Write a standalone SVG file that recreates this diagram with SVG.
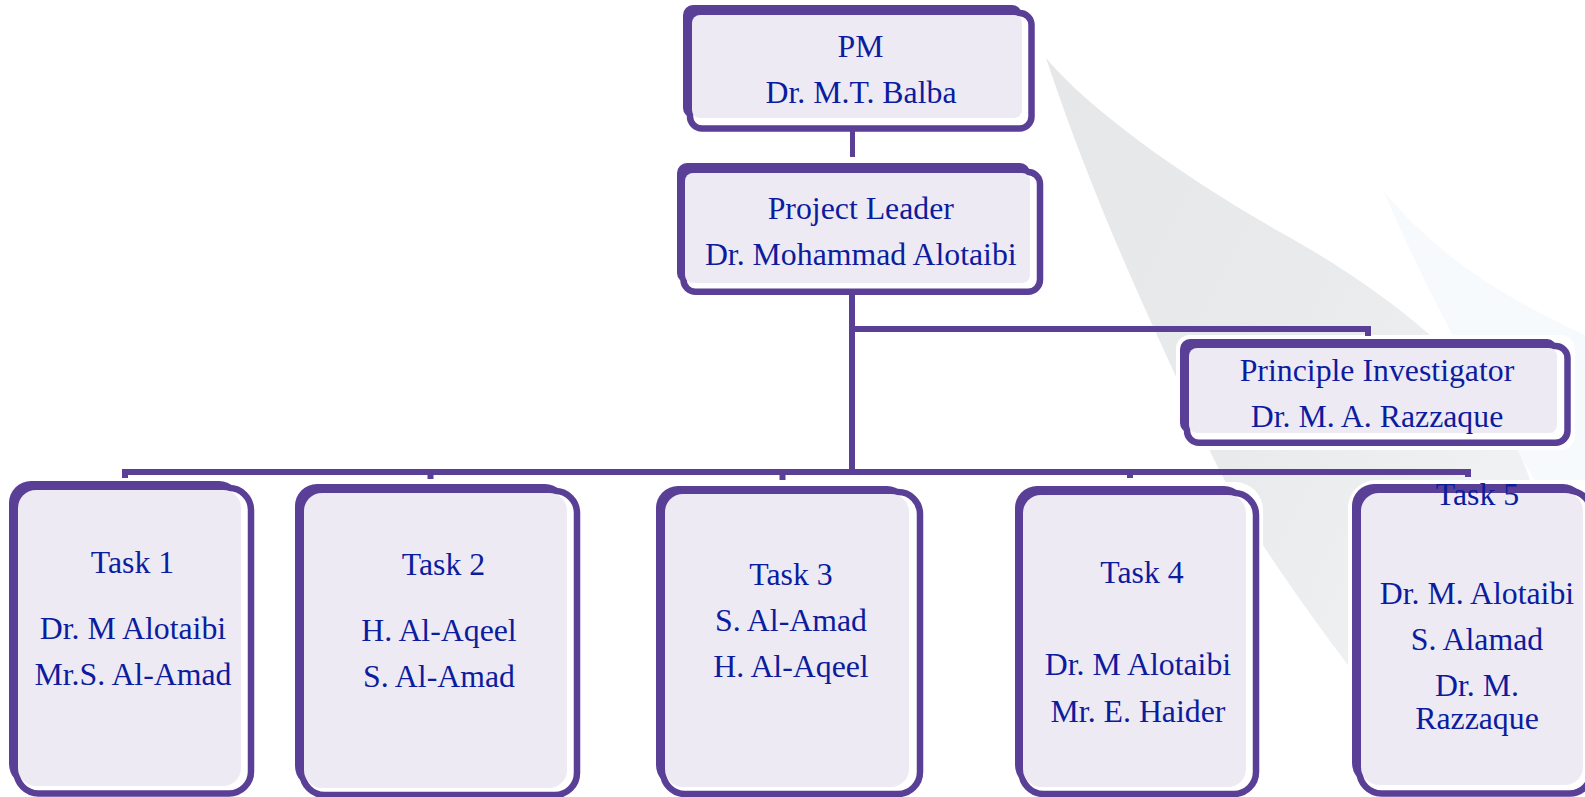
<svg xmlns="http://www.w3.org/2000/svg" width="1585" height="797" viewBox="0 0 1585 797">
<style>
.back{fill:#5A3F97}
.front{fill:#ffffff;stroke:#5A3F97;stroke-width:6.5}
.lav{fill:#EDEAF4}
.halo{fill:#ffffff}
.t{font-family:"Liberation Serif","Times New Roman",serif;font-size:31.8px;fill:#0C1C9E;text-anchor:middle}
.conn{fill:none;stroke:#5A3F97;stroke-width:6;stroke-linejoin:miter}
</style>
<defs>
<linearGradient id="sw" x1="0" y1="0" x2="1" y2="0.6">
<stop offset="0" stop-color="#E6E7E8"/>
<stop offset="0.55" stop-color="#E9EAEB"/>
<stop offset="1" stop-color="#F0F1F3"/>
</linearGradient>
</defs>
<rect x="0" y="0" width="1585" height="797" fill="#ffffff"/>
<g id="watermark">
<path d="M1383,190 C1440,260 1510,300 1585,335 L1585,560 C1500,430 1430,300 1383,190 Z" fill="#F7FAFC"/>
<path d="M1046,58 C1090,110 1180,175 1280,232 C1340,265 1390,300 1430,335 C1470,375 1510,420 1530,480 L1350,668 C1300,600 1240,520 1205,440 C1160,340 1100,220 1046,58 Z" fill="url(#sw)"/>
</g>
<g id="node-pm">
<rect class="halo" x="679" y="1" width="360" height="135" rx="14"/>
<rect class="back" x="683" y="5" width="339" height="113" rx="10"/>
<rect class="front" x="690" y="13" width="341.5" height="115.5" rx="12"/>
<rect class="lav" x="692" y="15" width="330" height="103" rx="8"/>
<text class="t" x="860.5" y="56.7">PM</text>
<text class="t" x="861" y="103.3">Dr. M.T. Balba</text>
</g>
<g id="node-pl">
<rect class="halo" x="673" y="159" width="374.3" height="140" rx="14"/>
<rect class="back" x="677" y="163" width="353" height="120" rx="10"/>
<rect class="front" x="683.5" y="172" width="356.5" height="119.7" rx="12"/>
<rect class="lav" x="685" y="173" width="345" height="110" rx="8"/>
<text class="t" x="860.8" y="219.3">Project Leader</text>
<text class="t" x="860.8" y="265">Dr. Mohammad Alotaibi</text>
</g>
<g id="node-pi">
<rect class="halo" x="1176" y="335" width="398.7" height="115" rx="14"/>
<rect class="back" x="1180" y="339" width="377" height="94" rx="10"/>
<rect class="front" x="1187" y="346" width="380.5" height="96.7" rx="12"/>
<rect class="lav" x="1189" y="348" width="368" height="85" rx="8"/>
<text class="t" x="1377" y="381">Principle Investigator</text>
<text class="t" x="1377" y="426.7">Dr. M. A. Razzaque</text>
</g>
<g id="node-task1">
<rect class="halo" x="5" y="477" width="253" height="324" rx="28"/>
<rect class="back" x="9" y="481" width="232" height="305" rx="22"/>
<rect class="front" x="16.5" y="488" width="234.5" height="305.5" rx="22"/>
<rect class="lav" x="18" y="490" width="223" height="296" rx="18"/>
<text class="t" x="132.5" y="573">Task 1</text>
<text class="t" x="133" y="639">Dr. M Alotaibi</text>
<text class="t" x="133" y="685">Mr.S. Al-Amad</text>
</g>
<g id="node-task2">
<rect class="halo" x="291" y="480" width="293" height="324" rx="28"/>
<rect class="back" x="295" y="484" width="272" height="304" rx="22"/>
<rect class="front" x="302.5" y="491" width="274.5" height="304" rx="22"/>
<rect class="lav" x="304" y="493" width="263" height="295" rx="18"/>
<text class="t" x="443.5" y="575">Task 2</text>
<text class="t" x="439" y="641">H. Al-Aqeel</text>
<text class="t" x="439" y="687">S. Al-Amad</text>
</g>
<g id="node-task3">
<rect class="halo" x="652" y="482" width="275" height="320" rx="28"/>
<rect class="back" x="656" y="486" width="253" height="301" rx="22"/>
<rect class="front" x="663" y="492" width="257" height="302" rx="22"/>
<rect class="lav" x="665" y="494" width="244" height="293" rx="18"/>
<text class="t" x="791" y="585">Task 3</text>
<text class="t" x="791" y="631">S. Al-Amad</text>
<text class="t" x="791" y="676.5">H. Al-Aqeel</text>
</g>
<g id="node-task4">
<rect class="halo" x="1011" y="482" width="252" height="320" rx="28"/>
<rect class="back" x="1015" y="486" width="231" height="301" rx="22"/>
<rect class="front" x="1021.5" y="493" width="234.5" height="301" rx="22"/>
<rect class="lav" x="1023" y="495" width="223" height="292" rx="18"/>
<text class="t" x="1142" y="583">Task 4</text>
<text class="t" x="1138" y="675">Dr. M Alotaibi</text>
<text class="t" x="1138" y="721.5">Mr. E. Haider</text>
</g>
<g id="node-task5">
<rect class="halo" x="1348" y="480" width="270" height="322" rx="28"/>
<rect class="back" x="1352" y="484" width="233" height="301" rx="22"/>
<rect class="front" x="1359.5" y="491" width="232" height="302.5" rx="22"/>
<rect class="lav" x="1361" y="493" width="222" height="292" rx="18"/>
<text class="t" x="1477.5" y="505">Task 5</text>
<text class="t" x="1477" y="604">Dr. M. Alotaibi</text>
<text class="t" x="1477" y="650">S. Alamad</text>
<text class="t" x="1477" y="696">Dr. M.</text>
<text class="t" x="1477" y="729">Razzaque</text>
</g>
<g id="connectors">
<path class="conn" style="stroke-width:5" d="M852.5,126 V157"/>
<path class="conn" d="M852,290 V472"/>
<path class="conn" d="M852,329 H1368 V336"/>
<path class="conn" d="M852,472 H125 V478"/>
<path class="conn" d="M852,472 H430.5 V479"/>
<path class="conn" d="M852,472 H782.5 V480"/>
<path class="conn" d="M852,472 H1130 V478"/>
<path class="conn" d="M852,472 H1468 V477"/>
</g>
</svg>
